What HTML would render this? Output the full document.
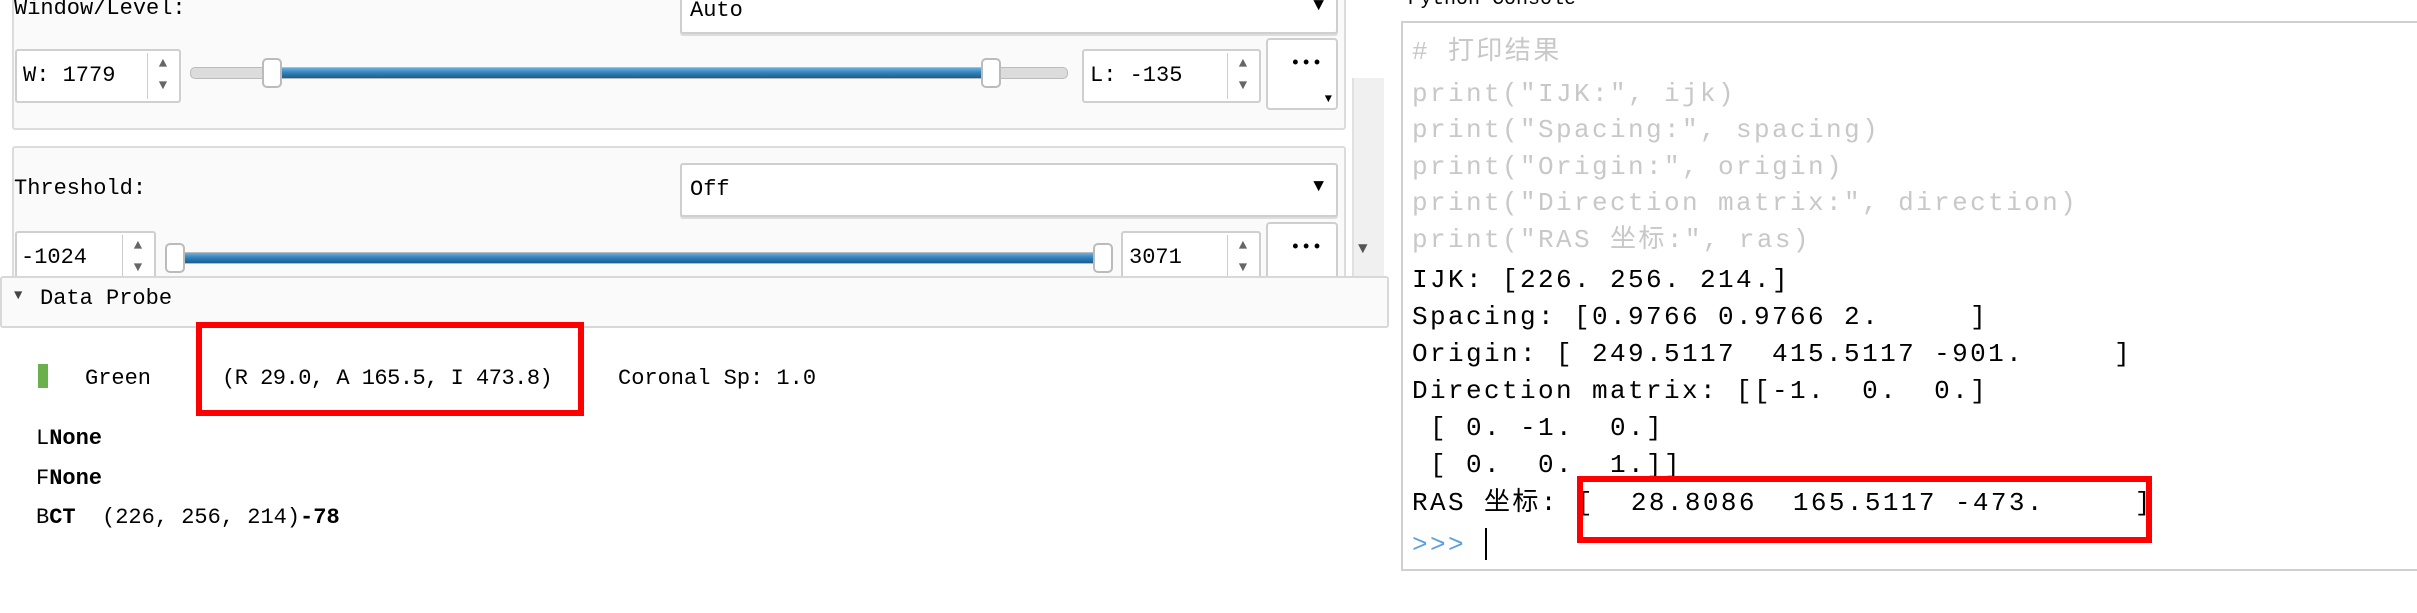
<!DOCTYPE html>
<html><head><meta charset="utf-8"><style>
body{margin:0;width:2417px;height:613px;background:#fff;position:relative;overflow:hidden;font-family:"Liberation Mono","Noto Sans CJK SC",monospace;}
.a{position:absolute;}
.box{position:absolute;background:#fafafa;border:2px solid #dcdcdc;border-radius:3px;}
.dd{position:absolute;background:#fff;border:2px solid #cfcfcf;border-radius:3px;box-shadow:0 2px 0 #ddd;font-size:22px;}
.spin{position:absolute;background:#fff;border:2px solid #cfcfcf;border-radius:3px;font-size:22px;}
.tr{position:absolute;background:#dcdcdc;height:10px;border-radius:5px;border:1px solid #bbb;}
.fill{position:absolute;height:10px;background:linear-gradient(#6aaedb,#2f7fb8 50%,#1b5e8f);border-radius:3px;}
.h{position:absolute;width:16px;height:26px;background:#fff;border:2px solid #bbb;border-radius:5px;}
.btn{position:absolute;background:#fff;border:2px solid #cfcfcf;border-radius:4px;font-size:18px;text-align:center;}
.t{position:absolute;font-size:22px;white-space:pre;color:#000;}
.c{position:absolute;left:1412px;font-size:26px;letter-spacing:2.4px;white-space:pre;line-height:36px;height:36px;}
.g{color:#c8c8c8}
</style></head><body>
<div class="box" style="left:12px;top:-10px;width:1330px;height:136px;"></div>
<div class="t" style="left:14px;top:-4px;">Window/Level:</div>
<div class="dd" style="left:680px;top:-6px;width:654px;height:36px;"><span class="a" style="left:8px;top:2px;">Auto</span><span class="a" style="right:12px;top:0px;font-size:18px;">▼</span></div>
<div class="spin" style="left:15px;top:49px;width:162px;height:50px;"><span class="a" style="left:6px;top:12px;">W: 1779</span><span class="a" style="left:130px;top:2px;border-left:1px solid #ccc;height:46px;width:30px;font-size:14px;color:#666;text-align:center;line-height:22px;">▲<br>▼</span></div>
<div class="tr" style="left:190px;top:67px;width:876px;"></div>
<div class="fill" style="left:278px;top:68px;width:714px;"></div>
<div class="h" style="left:262px;top:58px;"></div>
<div class="h" style="left:981px;top:58px;"></div>
<div class="spin" style="left:1082px;top:49px;width:175px;height:50px;"><span class="a" style="left:6px;top:12px;">L: -135</span><span class="a" style="left:143px;top:2px;border-left:1px solid #ccc;height:46px;width:30px;font-size:14px;color:#666;text-align:center;line-height:22px;">▲<br>▼</span></div>
<div class="btn" style="left:1266px;top:38px;width:68px;height:68px;"><span class="a" style="left:22px;top:14px;">•••</span><span class="a" style="right:4px;bottom:2px;font-size:12px;">▼</span></div>
<div class="box" style="left:12px;top:146px;width:1330px;height:140px;"></div>
<div class="t" style="left:14px;top:176px;">Threshold:</div>
<div class="dd" style="left:680px;top:163px;width:654px;height:50px;"><span class="a" style="left:8px;top:12px;">Off</span><span class="a" style="right:12px;top:12px;font-size:18px;">▼</span></div>
<div class="spin" style="left:15px;top:231px;width:137px;height:50px;"><span class="a" style="left:4px;top:12px;">-1024</span><span class="a" style="left:105px;top:2px;border-left:1px solid #ccc;height:46px;width:30px;font-size:14px;color:#666;text-align:center;line-height:22px;">▲<br>▼</span></div>
<div class="tr" style="left:165px;top:252px;width:940px;"></div>
<div class="fill" style="left:175px;top:253px;width:925px;"></div>
<div class="h" style="left:165px;top:243px;"></div>
<div class="h" style="left:1093px;top:243px;"></div>
<div class="spin" style="left:1121px;top:231px;width:136px;height:50px;"><span class="a" style="left:6px;top:12px;">3071</span><span class="a" style="left:104px;top:2px;border-left:1px solid #ccc;height:46px;width:30px;font-size:14px;color:#666;text-align:center;line-height:22px;">▲<br>▼</span></div>
<div class="btn" style="left:1266px;top:222px;width:68px;height:60px;"><span class="a" style="left:22px;top:14px;">•••</span></div>
<div class="a" style="left:1352px;top:78px;width:30px;height:200px;background:#f0f0f0;border-left:2px solid #e0e0e0;"></div>
<div class="a" style="left:1358px;top:240px;font-size:16px;color:#555;">▼</div>
<div class="a" style="left:0;top:276px;width:1385px;height:48px;background:#fafafa;border:2px solid #d8d8d8;border-radius:3px;"></div>
<div class="t" style="left:14px;top:288px;font-size:14px;color:#444;">▼</div>
<div class="t" style="left:40px;top:286px;">Data Probe</div>
<div class="a" style="left:38px;top:364px;width:10px;height:24px;background:#6ab04c;"></div>
<div class="t" style="left:85px;top:366px;">Green</div>
<div class="t" style="left:222px;top:366px;letter-spacing:-0.5px;">(R 29.0, A 165.5, I 473.8)</div>
<div class="t" style="left:618px;top:366px;">Coronal Sp: 1.0</div>
<div class="a" style="left:196px;top:322px;width:376px;height:82px;border:6px solid #f00;"></div>
<div class="t" style="left:36px;top:426px;">L<b>None</b></div>
<div class="t" style="left:36px;top:466px;">F<b>None</b></div>
<div class="t" style="left:36px;top:505px;">B<b>CT</b>  (226, 256, 214)<b>-78</b></div>
<div class="t" style="left:1408px;top:-12px;font-size:20px;">Python Console</div>
<div class="a" style="left:1401px;top:21px;width:1020px;height:546px;border:2px solid #d0d0d0;"></div>
<div class="c g" style="top:34px;"># 打印结果</div>
<div class="c g" style="top:76px;">print("IJK:", ijk)</div>
<div class="c g" style="top:112px;">print("Spacing:", spacing)</div>
<div class="c g" style="top:149px;">print("Origin:", origin)</div>
<div class="c g" style="top:185px;">print("Direction matrix:", direction)</div>
<div class="c g" style="top:222px;">print("RAS 坐标:", ras)</div>
<div class="c" style="top:262px;">IJK: [226. 256. 214.]</div>
<div class="c" style="top:299px;">Spacing: [0.9766 0.9766 2.     ]</div>
<div class="c" style="top:336px;">Origin: [ 249.5117  415.5117 -901.     ]</div>
<div class="c" style="top:373px;">Direction matrix: [[-1.  0.  0.]</div>
<div class="c" style="top:410px;"> [ 0. -1.  0.]</div>
<div class="c" style="top:447px;"> [ 0.  0.  1.]]</div>
<div class="c" style="top:485px;">RAS 坐标: [  28.8086  165.5117 -473.     ]</div>
<div class="c" style="top:527px;color:#5aa0e0;">&gt;&gt;&gt;</div>
<div class="a" style="left:1485px;top:528px;width:2px;height:32px;background:#000;"></div>
<div class="a" style="left:1577px;top:476px;width:563px;height:55px;border:6px solid #f00;"></div>
</body></html>
